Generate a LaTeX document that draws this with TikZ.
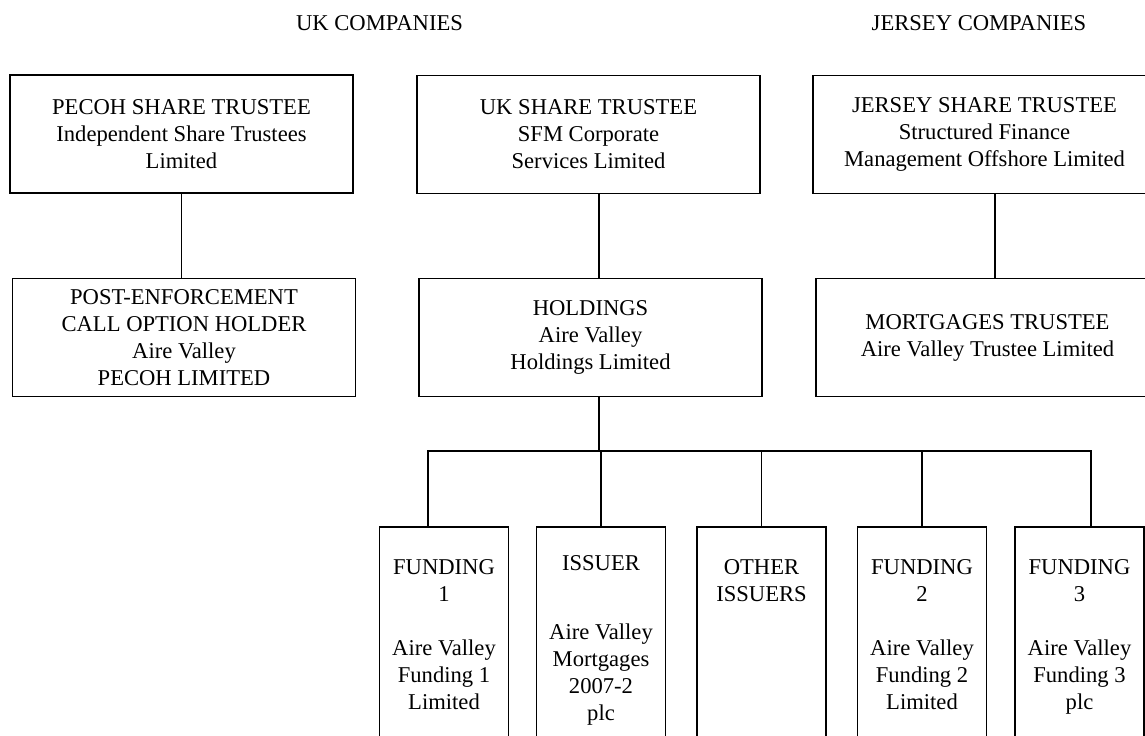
\documentclass[tikz,border=0pt]{standalone}
\usepackage{fontspec}
\setmainfont{Liberation Serif}
\usetikzlibrary{positioning, calc}

\begin{document}
\begin{tikzpicture}[
        x=0.5pt, y=-0.5pt,
        every node/.style={font=\fontsize{11.3}{13.5}\selectfont},
        company/.style={rectangle, draw=black, line width=0.9pt, minimum width=171.5pt, minimum height=59pt, align=center, inner sep=0pt},
        entity/.style={rectangle, draw=black, line width=0.9pt, minimum width=64.5pt, minimum height=130pt, anchor=north, inner sep=0pt},
        entitytext/.style={anchor=north, align=center, inner sep=0pt},
        link/.style={draw=black, line width=0.9pt}
    ]
        \useasboundingbox (0,0) rectangle (1145,735);
        \clip (0,0) rectangle (1145,735);

        % headings
        \node[anchor=base] (ukhead) at (379.5,30) {UK COMPANIES};
        \node[anchor=base] (jerseyhead) at (979,30) {JERSEY COMPANIES};

        % share trustees
        \node[company] (pecohst) at (181.5,134) {PECOH SHARE TRUSTEE\\Independent Share Trustees\\Limited};
        \node[company] (ukst) at (588.5,134.5) {UK SHARE TRUSTEE\\SFM Corporate\\Services Limited};
        \node[company] (jerseyst) at (984.5,134.5) {JERSEY SHARE TRUSTEE\\Structured Finance\\Management Offshore Limited};

        % second row
        \node[company] (postenf) at (184,337.5) {POST-ENFORCEMENT\\CALL OPTION HOLDER\\Aire Valley\\PECOH LIMITED};
        \node[company] (holdings) at (590.5,337.5) {HOLDINGS\\Aire Valley\\Holdings Limited};
        \node[company] (mortgages) at (987.5,337.5) {MORTGAGES TRUSTEE\\Aire Valley Trustee Limited};

        % subsidiaries
        \node[entity] (fund1) at (444,526) {};
        \node[entity] (issuer) at (601,526) {};
        \node[entity] (others) at (761.5,526) {};
        \node[entity] (fund2) at (922,526) {};
        \node[entity] (fund3) at (1079.5,526) {};

        \node[entitytext, yshift=-16.5pt] (fund1txt) at (fund1.north) {FUNDING\\1\\[13.5pt]Aire Valley\\Funding 1\\Limited};
        \node[entitytext, yshift=-14.5pt] (issuertxt) at (issuer.north) {ISSUER\\[21pt]Aire Valley\\Mortgages\\2007-2\\plc};
        \node[entitytext, yshift=-16.5pt] (otherstxt) at (others.north) {OTHER\\ISSUERS};
        \node[entitytext, yshift=-16.5pt] (fund2txt) at (fund2.north) {FUNDING\\2\\[13.5pt]Aire Valley\\Funding 2\\Limited};
        \node[entitytext, yshift=-16.5pt] (fund3txt) at (fund3.north) {FUNDING\\3\\[13.5pt]Aire Valley\\Funding 3\\plc};

        % ownership lines
        \coordinate (trunk) at (599,451);
        \draw[link] (pecohst.south) -- (pecohst.south |- postenf.north);
        \draw[link] (ukst.south -| trunk) -- (holdings.north -| trunk);
        \draw[link] ([xshift=5.25pt]jerseyst.south) -- ([xshift=5.25pt]jerseyst.south |- mortgages.north);
        \draw[link] (holdings.south -| trunk) -- (trunk);
        \draw[link] ([xshift=-8pt]fund1.north) |- (trunk) -| ([xshift=5.75pt]fund3.north);
        \foreach \n in {issuer, others, fund2}
            \draw[link] (\n.north) -- (\n.north |- trunk);
    \end{tikzpicture}
\end{document}
